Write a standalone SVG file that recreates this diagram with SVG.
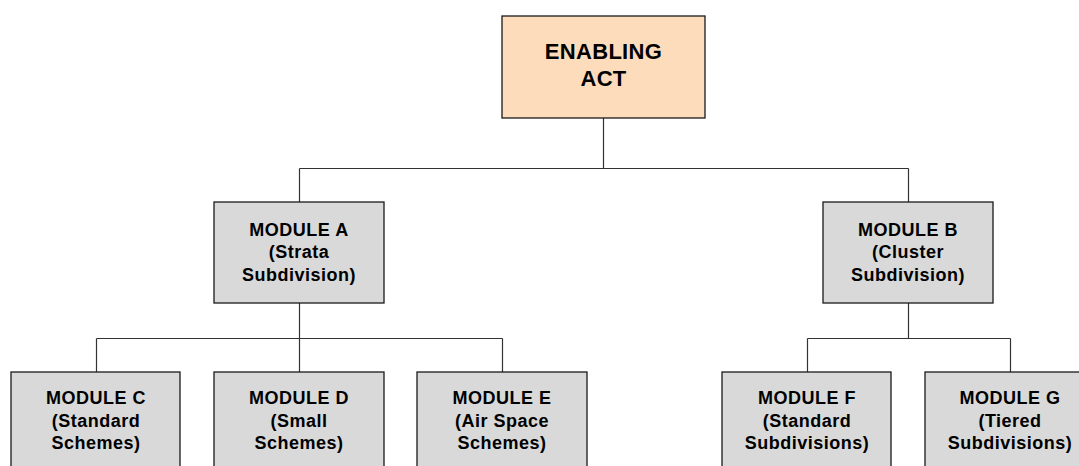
<svg xmlns="http://www.w3.org/2000/svg" width="1079" height="466" viewBox="0 0 1079 466">
<style>
.box{fill:#d9d9d9;stroke:#1a1a1a;stroke-width:1.3}
.top{fill:#fddcbc;stroke:#1a1a1a;stroke-width:1.3}
.t{font-family:"Liberation Sans",Arial,sans-serif;font-weight:bold;font-size:18px;letter-spacing:0.5px;fill:#000;text-anchor:middle}
.tt{font-family:"Liberation Sans",Arial,sans-serif;font-weight:bold;font-size:22px;letter-spacing:0.3px;fill:#000;text-anchor:middle}
.c{fill:none;stroke:#333;stroke-width:1.2}
</style>
<rect width="1079" height="466" fill="#fff"/>
<g id="connectors">
<path class="c" d="M603.5 118V168.5M299.5 168.5H908.5M299.5 168.5V202M908.5 168.5V202"/>
<path class="c" d="M299.5 303V338.5M96.5 338.5H502.5M96.5 338.5V372M299.5 338.5V372M502.5 338.5V372"/>
<path class="c" d="M908.5 303V338.5M807.5 338.5H1010.5M807.5 338.5V372M1010.5 338.5V372"/>
</g>
<g id="enabling-act">
<rect class="top" x="502" y="16" width="203" height="102"/>
<text class="tt" x="603.5" y="59">ENABLING</text>
<text class="tt" x="603.5" y="86">ACT</text>
</g>
<g id="module-a">
<rect class="box" x="214" y="202" width="170" height="101"/>
<text class="t" x="299" y="236">MODULE A</text>
<text class="t" x="299" y="258">(Strata</text>
<text class="t" x="299" y="281">Subdivision)</text>
</g>
<g id="module-b">
<rect class="box" x="823" y="202" width="170" height="101"/>
<text class="t" x="908" y="236">MODULE B</text>
<text class="t" x="908" y="258">(Cluster</text>
<text class="t" x="908" y="281">Subdivision)</text>
</g>
<g id="module-c">
<rect class="box" x="11" y="372" width="169" height="101"/>
<text class="t" x="96" y="404">MODULE C</text>
<text class="t" x="96" y="427">(Standard</text>
<text class="t" x="96" y="449">Schemes)</text>
</g>
<g id="module-d">
<rect class="box" x="214" y="372" width="170" height="101"/>
<text class="t" x="299" y="404">MODULE D</text>
<text class="t" x="299" y="427">(Small</text>
<text class="t" x="299" y="449">Schemes)</text>
</g>
<g id="module-e">
<rect class="box" x="417" y="372" width="170" height="101"/>
<text class="t" x="502" y="404">MODULE E</text>
<text class="t" x="502" y="427">(Air Space</text>
<text class="t" x="502" y="449">Schemes)</text>
</g>
<g id="module-f">
<rect class="box" x="722" y="372" width="169" height="101"/>
<text class="t" x="807" y="404">MODULE F</text>
<text class="t" x="807" y="427">(Standard</text>
<text class="t" x="807" y="449">Subdivisions)</text>
</g>
<g id="module-g">
<rect class="box" x="925" y="372" width="170" height="101"/>
<text class="t" x="1010" y="404">MODULE G</text>
<text class="t" x="1010" y="427">(Tiered</text>
<text class="t" x="1010" y="449">Subdivisions)</text>
</g>
</svg>
